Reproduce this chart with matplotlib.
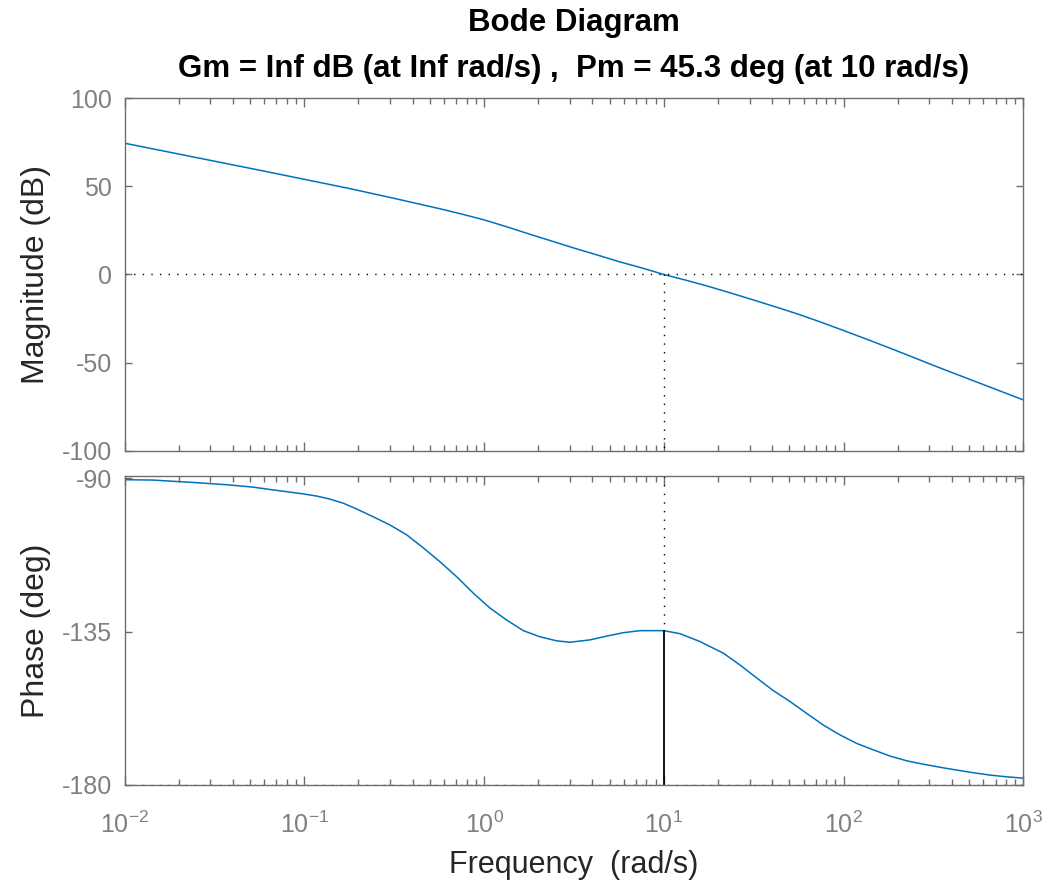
import numpy as np
import matplotlib.pyplot as plt
from matplotlib.ticker import LogLocator, NullFormatter, FixedLocator

plt.rcParams['font.family'] = ['Liberation Sans', 'DejaVu Sans']
plt.rcParams['mathtext.default'] = 'regular'
plt.rcParams['axes.unicode_minus'] = False

# open-loop response, read at log-spaced frequencies (rad/s)
mag_freq = [0.01, 0.01778, 0.03162, 0.05623, 0.1, 0.1778, 0.3162, 0.5623, 0.7499,
            1.0, 1.334, 1.778, 2.371, 3.162, 4.217, 5.623, 7.499, 10.0, 13.34,
            17.78, 23.71, 31.62, 42.17, 56.23, 74.99, 100.0, 133.4, 177.8, 237.1,
            316.2, 421.7, 562.3, 749.9, 1000.0]
mag_db = [74.5, 69.4, 64.3, 59.2, 54.0, 48.8, 43.2, 37.4, 34.3,
          31.0, 27.1, 23.0, 19.0, 15.0, 11.2, 7.3, 3.8, 0.0, -3.3,
          -6.8, -10.6, -14.5, -18.5, -22.6, -27.1, -31.8, -36.6, -41.5, -46.5,
          -51.6, -56.5, -61.4, -66.3, -71.2]

phase_freq = [0.01, 0.01429, 0.02576, 0.03864, 0.05212, 0.06501, 0.07816, 0.09683,
              0.1172, 0.1390, 0.1648, 0.1956, 0.2422, 0.2999, 0.3715, 0.4592,
              0.5689, 0.7047, 0.8718, 1.080, 1.337, 1.654, 2.046, 2.537,
              3.008, 3.890, 4.814, 5.957, 7.379, 10.0, 12.30, 15.90,
              17.33, 21.43, 26.55, 32.89, 40.64, 50.35, 62.37, 77.09,
              95.50, 118.3, 146.6, 181.1, 224.4, 278.0, 344.4, 423.6,
              527.2, 653.1, 809.1, 1000.0]
phase_deg = [-90.4, -90.5, -91.3, -91.95, -92.6, -93.3, -93.85, -94.5,
             -95.2, -96.1, -97.3, -99.0, -101.3, -103.7, -106.6, -110.4,
             -114.5, -118.9, -123.7, -128.1, -131.6, -134.7, -136.5, -137.7,
             -138.1, -137.4, -136.3, -135.3, -134.7, -134.7, -135.6, -137.9,
             -138.9, -141.3, -144.8, -148.6, -152.3, -155.5, -159.0, -162.4,
             -165.3, -167.8, -169.7, -171.5, -172.9, -173.9, -174.8, -175.6,
             -176.4, -177.1, -177.6, -178.0]

wc = 10.0        # gain crossover (rad/s)
phase_wc = -134.7

blue = '#0072BD'
spine_gray = '#6e6e6e'
label_gray = '#808080'
dot = (0, (1, 5.2))

fig = plt.figure(figsize=(10.51, 8.86), dpi=100)
ax1 = fig.add_axes([0.1185, 0.4913, 0.8552, 0.3978])
ax2 = fig.add_axes([0.1185, 0.1140, 0.8552, 0.3488])

for ax in (ax1, ax2):
    ax.set_xscale('log')
    ax.set_xlim(1e-2, 1e3)
    ax.xaxis.set_major_locator(LogLocator(base=10, numticks=10))
    ax.xaxis.set_minor_locator(LogLocator(base=10, subs=np.arange(2, 10), numticks=20))
    ax.xaxis.set_minor_formatter(NullFormatter())
    ax.tick_params(which='both', direction='in', top=True, right=True,
                   color=spine_gray, labelcolor=label_gray, labelsize=18, width=1)
    ax.tick_params(axis='x', which='major', length=6.5, pad=19)
    ax.tick_params(axis='x', which='minor', length=4)
    ax.tick_params(axis='y', which='major', length=5, pad=9)
    for s in ax.spines.values():
        s.set_color(spine_gray)
        s.set_linewidth(1.0)

# magnitude
ax1.plot(mag_freq, mag_db, color=blue, lw=1.1)
ax1.axhline(0, color='black', lw=1.0, ls=dot)
ax1.plot([wc, wc], [0, -100], color='black', lw=1.0, ls=dot)
ax1.set_ylim(-100, 100)
ax1.yaxis.set_major_locator(FixedLocator([-100, -50, 0, 50, 100]))
ax1.tick_params(axis='x', labelbottom=False)
ax1.set_ylabel('Magnitude (dB)', fontsize=23, color='#262626', labelpad=8)
ax1.set_title('Bode Diagram\nGm = Inf dB (at Inf rad/s) ,  Pm = 45.3 deg (at 10 rad/s)',
              fontsize=22.5, fontweight='bold', pad=15, linespacing=1.7)

# phase
ax2.plot(phase_freq, phase_deg, color=blue, lw=1.1)
ax2.axhline(-180, color='black', lw=1.0, ls=dot)
ax2.plot([wc, wc], [-89.3, phase_wc], color='black', lw=1.0, ls=dot)
ax2.plot([wc, wc], [phase_wc, -180], color='black', lw=1.3)
ax2.set_ylim(-180, -89.3)
ax2.yaxis.set_major_locator(FixedLocator([-180, -135, -90]))
ax2.set_xticks([1e-2, 1e-1, 1e0, 1e1, 1e2, 1e3])
ax2.set_xticklabels(['$10^{-2}$', '$10^{-1}$', '$10^{0}$', '$10^{1}$', '$10^{2}$', '$10^{3}$'])
ax2.set_ylabel('Phase (deg)', fontsize=23, color='#262626', labelpad=8)
ax2.set_xlabel('Frequency  (rad/s)', fontsize=22, color='#262626', labelpad=9)

fig.savefig('out.png', dpi=100)
